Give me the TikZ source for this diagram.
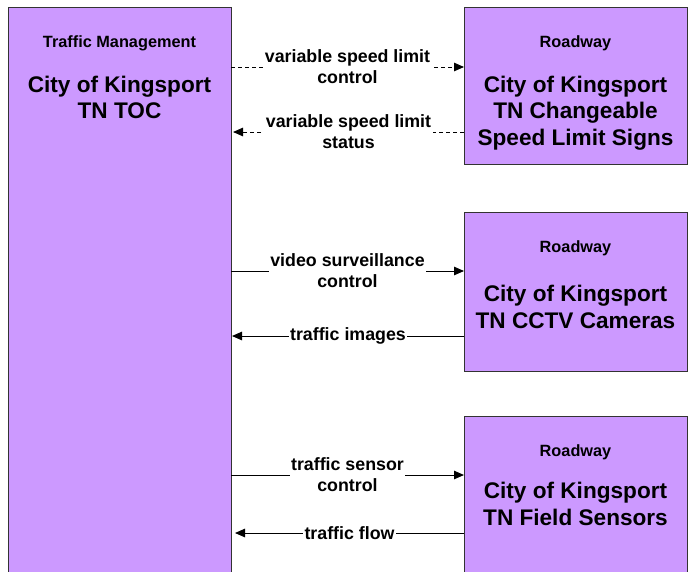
\documentclass[tikz,border=0pt]{standalone}
\usepackage{fontspec}
\setmainfont{Liberation Sans}
\usetikzlibrary{arrows.meta}
\definecolor{boxfill}{HTML}{CC99FF}
\definecolor{boxline}{HTML}{333333}
\tikzset{
  sysbox/.style={draw=boxline, line width=0.9pt, fill=boxfill, minimum width=223pt, inner sep=0pt, outer sep=0pt},
  smalltxt/.style={font=\bfseries\fontsize{16.3}{19}\selectfont, inner sep=0pt},
  bigtxt/.style={font=\bfseries\fontsize{22.6}{26.5}\selectfont, align=center, inner sep=0pt},
  flowlbl/.style={font=\bfseries\fontsize{17.8}{21}\selectfont, align=center, fill=white, inner sep=1.5pt},
  flow/.style={line width=1pt, -{Triangle[length=10pt,width=8.5pt]}},
  dflow/.style={flow, dash pattern=on 4pt off 3pt}
}
\begin{document}
\begin{tikzpicture}[x=1pt,y=-1pt]
\useasboundingbox (0,0) rectangle (691,571);
\clip (0,0) rectangle (691,571);
% boxes
\node[sysbox, minimum height=570pt] (toc) at (119.5,292) {};
\node[sysbox, minimum height=157pt] (sign) at (575.5,85.5) {};
\node[sysbox, minimum height=159pt] (cctv) at (575.5,291.5) {};
\node[sysbox, minimum height=160pt] (sens) at (575.5,496) {};
% box texts
\node[smalltxt] (tocc) at (119.5,43) {Traffic Management};
\node[bigtxt, anchor=north] (tocn) at (119.5,75.5) {City of Kingsport\\TN TOC};
\node[smalltxt] (signc) at (575.5,43) {Roadway};
\node[bigtxt, anchor=north] (signn) at (575.5,75.5) {City of Kingsport\\TN Changeable\\Speed Limit Signs};
\node[smalltxt] (cctvc) at (575.5,248) {Roadway};
\node[bigtxt, anchor=north] (cctvn) at (575.5,285) {City of Kingsport\\TN CCTV Cameras};
\node[smalltxt] (sensc) at (575.5,452) {Roadway};
\node[bigtxt, anchor=north] (sensn) at (575.5,482) {City of Kingsport\\TN Field Sensors};
% flows
\draw[dflow] (toc.east |- 0,67) -- node[flowlbl] {variable speed limit\\control} (sign.west |- 0,67);
\draw[dflow] (sign.west |- 0,132) -- node[flowlbl] {variable speed limit\\status} ([xshift=2pt]toc.east |- 0,132);
\draw[flow] (toc.east |- 0,271) -- node[flowlbl] {video surveillance\\control} (cctv.west |- 0,271);
\draw[flow] (cctv.west |- 0,336) -- node[flowlbl] {traffic images} ([xshift=1pt]toc.east |- 0,336);
\draw[flow] (toc.east |- 0,475) -- node[flowlbl] {traffic sensor\\control} (sens.west |- 0,475);
\draw[flow] (sens.west |- 0,533) -- node[flowlbl] {traffic flow} ([xshift=4pt]toc.east |- 0,533);
\end{tikzpicture}
\end{document}
